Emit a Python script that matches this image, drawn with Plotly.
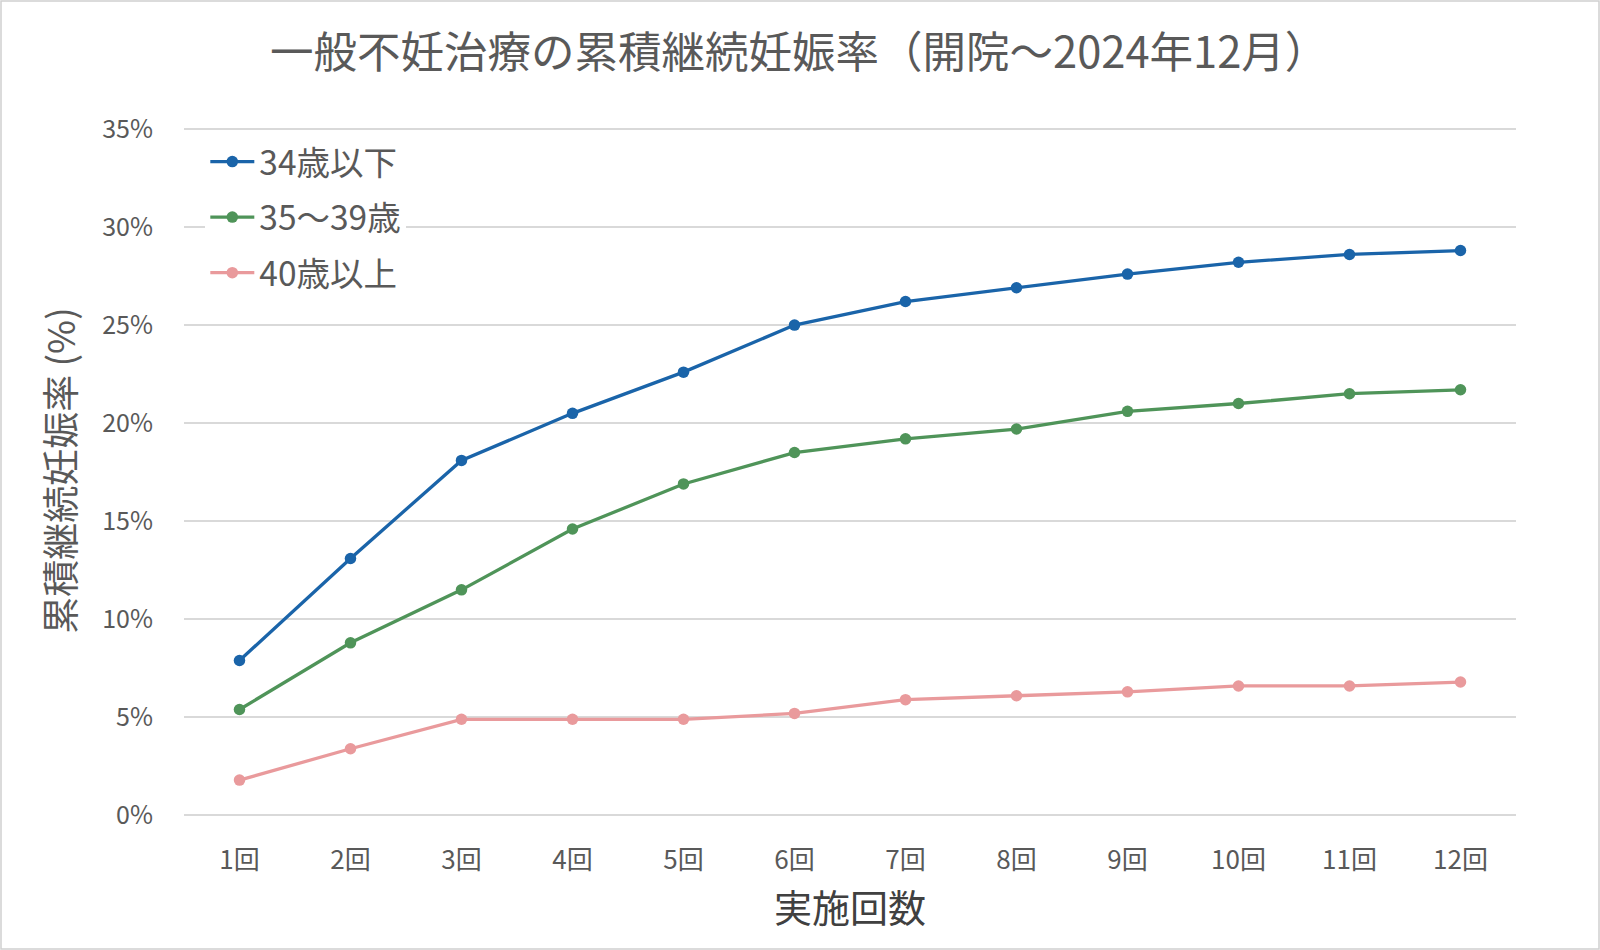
import plotly.graph_objects as go

categories = ["1回", "2回", "3回", "4回", "5回", "6回", "7回", "8回", "9回", "10回", "11回", "12回"]
under34 = [7.9, 13.1, 18.1, 20.5, 22.6, 25.0, 26.2, 26.9, 27.6, 28.2, 28.6, 28.8]
age35_39 = [5.4, 8.8, 11.5, 14.6, 16.9, 18.5, 19.2, 19.7, 20.6, 21.0, 21.5, 21.7]
over40 = [1.8, 3.4, 4.9, 4.9, 4.9, 5.2, 5.9, 6.1, 6.3, 6.6, 6.6, 6.8]
series_names = ["34歳以下", "35～39歳", "40歳以上"]
colors = ["#1a64a9", "#4f9459", "#e99a9c"]
ytick_vals = [0, 5, 10, 15, 20, 25, 30, 35]
ytick_text = ["0%", "5%", "10%", "15%", "20%", "25%", "30%", "35%"]

FONT = "Noto Sans CJK JP"
GRAY = "#595959"

fig = go.Figure()
for i, (name, vals) in enumerate(zip(series_names, [under34, age35_39, over40])):
    fig.add_trace(go.Scatter(
        x=categories, y=vals, name=name, mode="lines+markers",
        line=dict(color=colors[i], width=3.3),
        marker=dict(color=colors[i], size=11.5),
        legendgroup=f"g{i}",
    ))

W, H = 1600, 950
L, R, T, B = 184, 84, 125, 134
pw, ph = W - L - R, H - T - B
YMAX = 35.2

fig.update_layout(
    width=W, height=H,
    margin=dict(l=L, r=R, t=T, b=B),
    paper_bgcolor="white", plot_bgcolor="white",
    font=dict(family=FONT, color=GRAY),
    title=dict(text="一般不妊治療の累積継続妊娠率（開院～2024年12月）",
               x=0.4995, xanchor="center", y=1 - 53 / H, yanchor="middle",
               font=dict(size=43.5, color=GRAY, family=FONT)),
    showlegend=True,
    legend=dict(x=0.016, y=0.988, xanchor="left", yanchor="top",
                bgcolor="white", font=dict(size=33.5, color=GRAY, family=FONT),
                traceorder="grouped", tracegroupgap=9, itemwidth=44),
    xaxis=dict(type="category", range=[-0.5, 11.5], showgrid=False, showline=False,
               ticks="", tickfont=dict(size=26, color=GRAY), ticklabelstandoff=26,
               title=dict(text="実施回数", font=dict(size=38, color="#404040"), standoff=20)),
    yaxis=dict(range=[-0.03, YMAX], tickvals=ytick_vals, ticktext=ytick_text,
               showgrid=True, gridcolor="#d9d9d9", gridwidth=1.5,
               zeroline=True, zerolinecolor="#d9d9d9", zerolinewidth=1.5, showline=False,
               ticks="", tickfont=dict(size=25, color=GRAY), ticklabelstandoff=30,
               title=dict(text="累積継続妊娠率 (%)", font=dict(size=37, color=GRAY), standoff=15)),
    shapes=[dict(type="rect", xref="paper", yref="paper",
                 x0=-(L - 1) / pw, x1=1 + (R - 1) / pw, y0=-(B - 1) / ph, y1=1 + (T - 1) / ph,
                 line=dict(color="#d0d0d0", width=1.5), fillcolor="rgba(0,0,0,0)", layer="below")],
)

fig.write_html("out.html", config={"displayModeBar": False},
               post_script="document.body.style.margin='0';document.body.style.overflow='hidden';")
